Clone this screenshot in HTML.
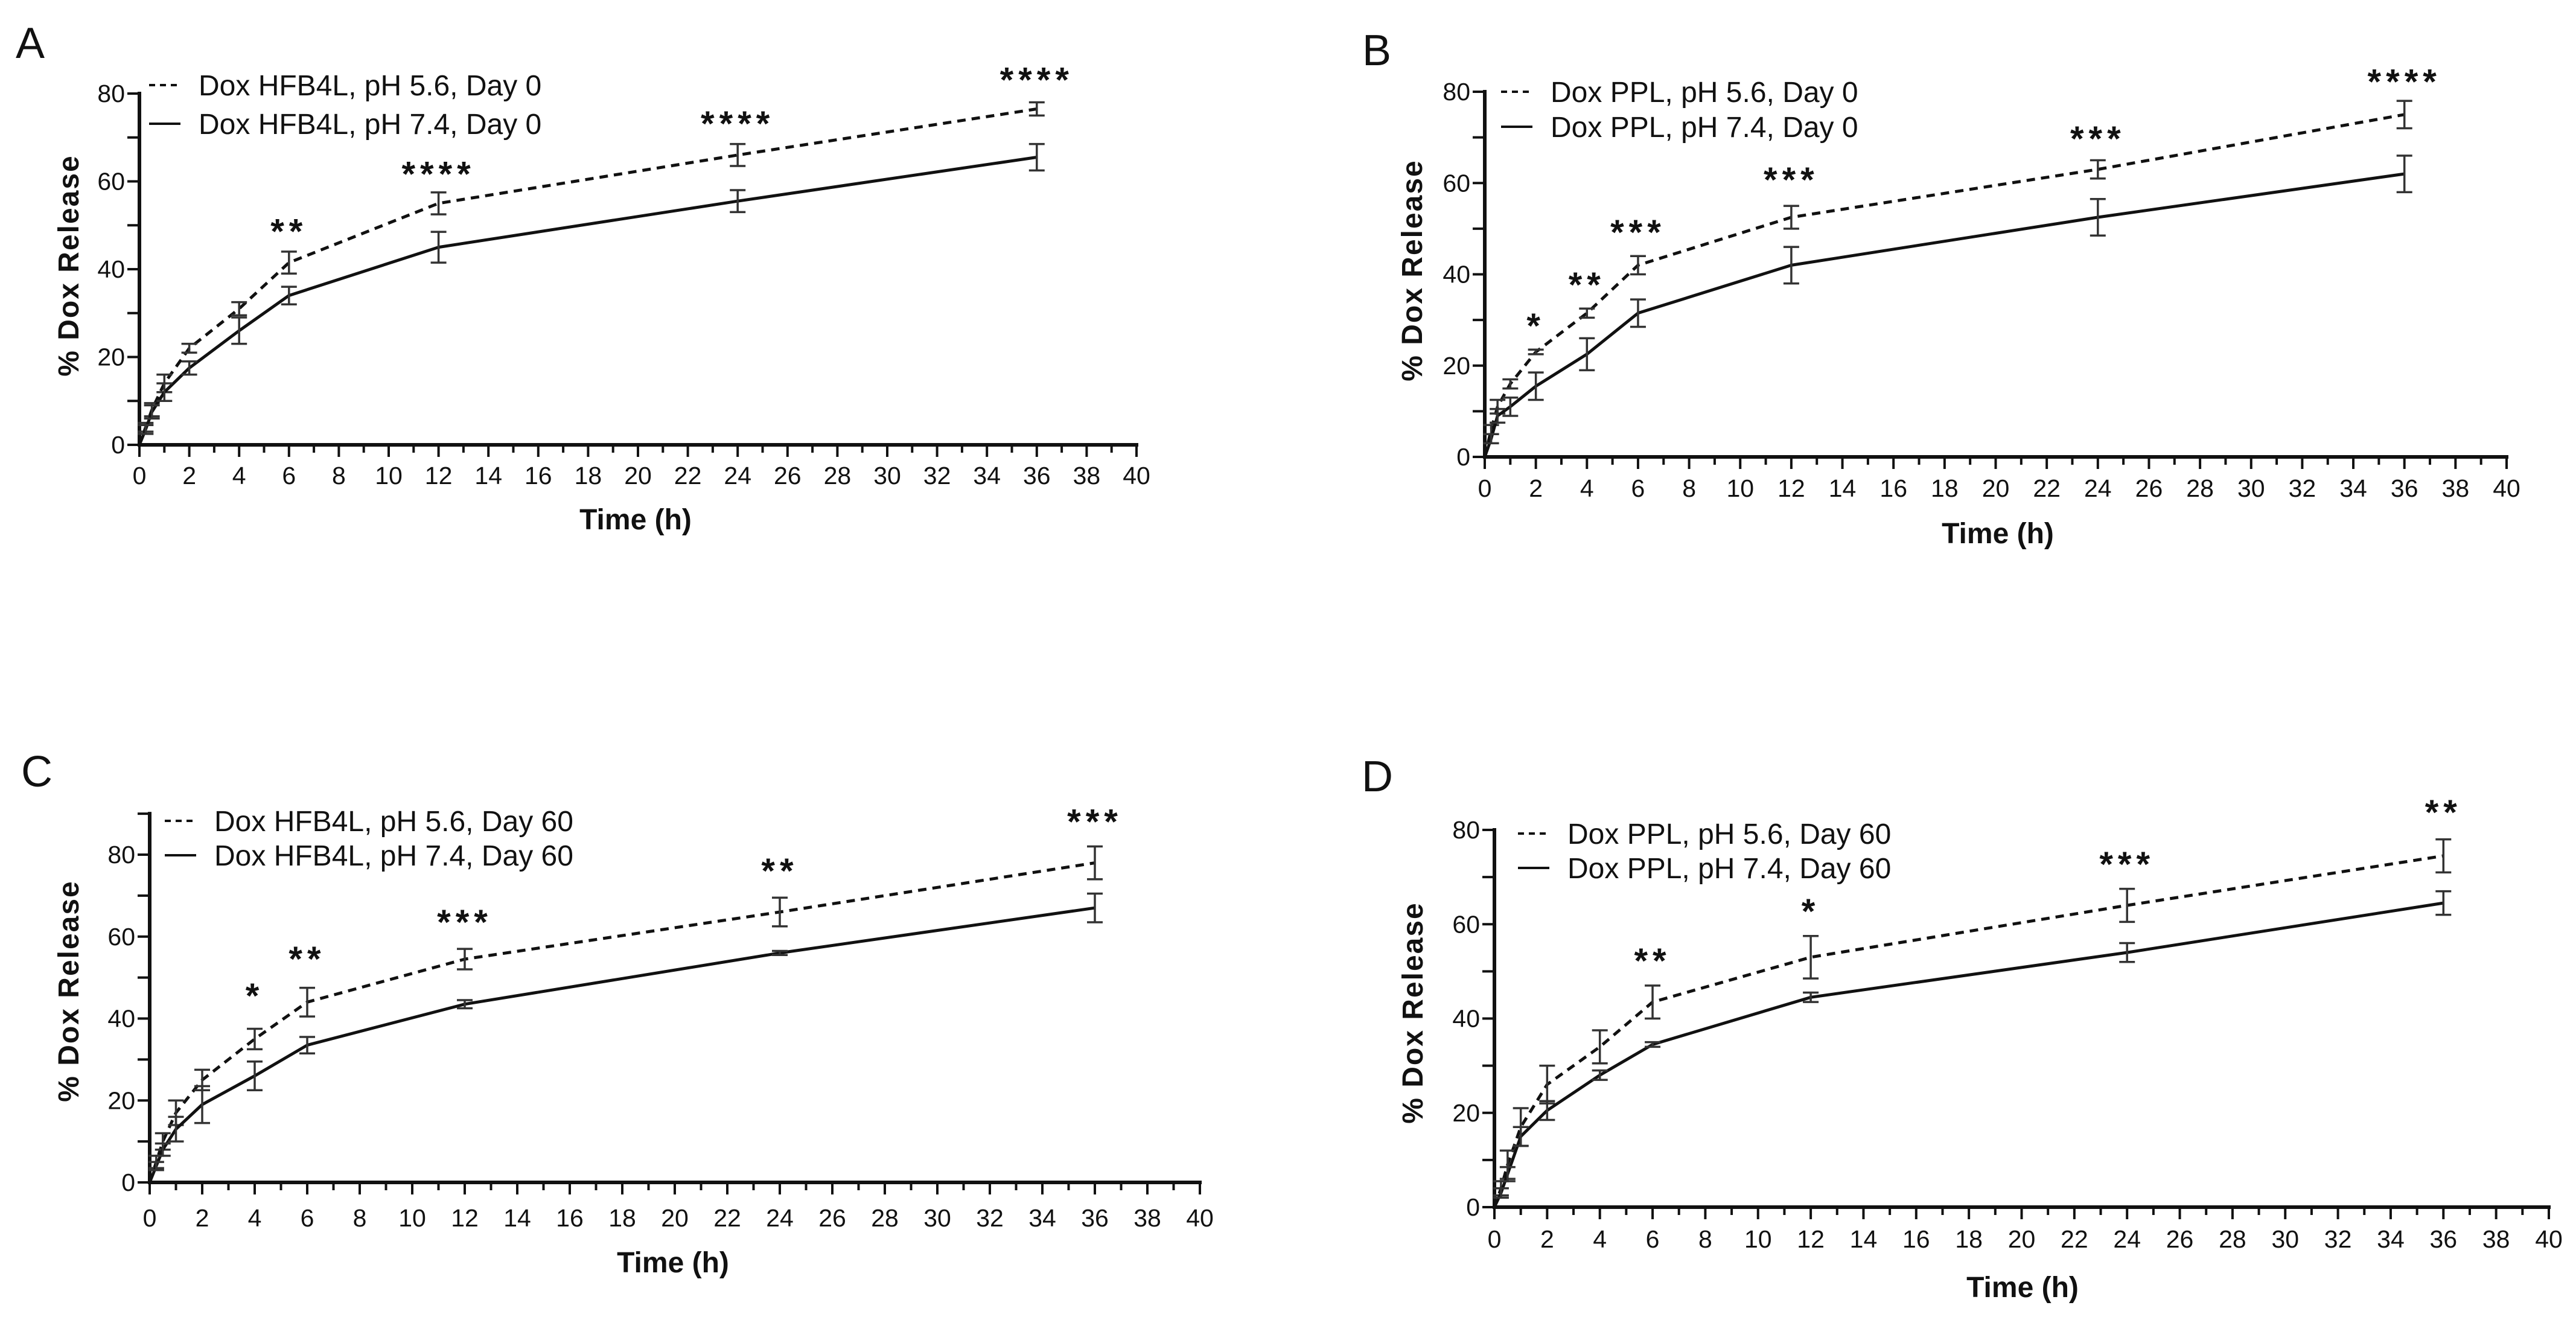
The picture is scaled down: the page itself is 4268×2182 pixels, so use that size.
<!DOCTYPE html>
<html><head><meta charset="utf-8"><style>
html,body{margin:0;padding:0;background:#fff;}
svg{display:block;}
text{font-family:"Liberation Sans",Arial,sans-serif;fill:#111;}
</style></head>
<body>
<svg id="fig" width="4268" height="2182" viewBox="0 0 4268 2182" xmlns="http://www.w3.org/2000/svg"></svg>
<script>
// Shared time points (h)
const times = [0, 0.25, 0.5, 1, 2, 4, 6, 12, 24, 36];
const xTicks = [0,2,4,6,8,10,12,14,16,18,20,22,24,26,28,30,32,34,36,38,40];
const yTickLabels = [0,20,40,60,80];

// Panel A
const aAcid = [0, 4, 8, 14, 22, 31, 41.5, 55, 66, 76.5];
const aAcidErr = [0, 1, 1.5, 2, 1, 1.5, 2.5, 2.5, 2.5, 1.5];
const aNeut = [0, 3.5, 7.5, 12, 17.5, 26, 34, 45, 55.5, 65.5];
const aNeutErr = [0, 1, 1.5, 2, 1.5, 3, 2, 3.5, 2.5, 3];
const aStarTimes = [6, 12, 24, 36];
const aStarVals = [50, 63, 74.5, 84.5];
const aStarLabels = ["**", "****", "****", "****"];

// Panel B
const bAcid = [0, 6, 11, 16, 23, 31.5, 42, 52.5, 63, 75];
const bAcidErr = [0, 1, 1.5, 1, 0.5, 1, 2, 2.5, 2, 3];
const bNeut = [0, 4, 9, 11, 15.5, 22.5, 31.5, 42, 52.5, 62];
const bNeutErr = [0, 1, 1.5, 2, 3, 3.5, 3, 4, 4, 4];
const bStarTimes = [2, 4, 6, 12, 24, 36];
const bStarVals = [30, 39, 50.5, 62, 71, 83.5];
const bStarLabels = ["*", "**", "***", "***", "***", "****"];

// Panel C
const cAcid = [0, 5, 10, 17, 25, 35, 44, 54.5, 66, 78];
const cAcidErr = [0, 1.5, 2, 3, 2.5, 2.5, 3.5, 2.5, 3.5, 4];
const cNeut = [0, 4, 8, 13, 19, 26, 33.5, 43.5, 56, 67];
const cNeutErr = [0, 1, 1.5, 3, 4.5, 3.5, 2, 1, 0.5, 3.5];
const cStarTimes = [4, 6, 12, 24, 36];
const cStarVals = [47, 56, 65, 77.5, 89.5];
const cStarLabels = ["*", "**", "***", "**", "***"];

// Panel D
const dAcid = [0, 4, 9, 17, 26, 34, 43.5, 53, 64, 74.5];
const dAcidErr = [0, 1.5, 3, 4, 4, 3.5, 3.5, 4.5, 3.5, 3.5];
const dNeut = [0, 3, 7, 15, 20.5, 28, 34.5, 44.5, 54, 64.5];
const dNeutErr = [0, 1, 1.5, 2, 2, 1, 0.5, 1, 2, 2.5];
const dStarTimes = [6, 12, 24, 36];
const dStarVals = [53.5, 64, 74, 85];
const dStarLabels = ["**", "*", "***", "**"];

const NS = "http://www.w3.org/2000/svg";
const svg = document.getElementById("fig");
function mk(tag, attrs, parent){
  const e = document.createElementNS(NS, tag);
  for (const k in attrs) e.setAttribute(k, attrs[k]);
  (parent||svg).appendChild(e);
  return e;
}

const panels = [
  {id:"a", letter:"A", lx:26, ly:96, x0:231, x40:1883, y0:737, y80:155, yTop:80,
   legX:329, legY1:141, legY2:205, legLabels:["Dox HFB4L, pH 5.6, Day 0","Dox HFB4L, pH 7.4, Day 0"],
   ylx:113, yly:440, tickY:802, titleX:1053, titleY:877,
   acid:aAcid, acidErr:aAcidErr, neut:aNeut, neutErr:aNeutErr, st:aStarTimes, sv:aStarVals, sl:aStarLabels},
  {id:"b", letter:"B", lx:2257, ly:108, x0:2460, x40:4153, y0:757, y80:152, yTop:80,
   legX:2569, legY1:152, legY2:210, legLabels:["Dox PPL, pH 5.6, Day 0","Dox PPL, pH 7.4, Day 0"],
   ylx:2339, yly:448, tickY:823, titleX:3310, titleY:900,
   acid:bAcid, acidErr:bAcidErr, neut:bNeut, neutErr:bNeutErr, st:bStarTimes, sv:bStarVals, sl:bStarLabels},
  {id:"c", letter:"C", lx:35, ly:1303, x0:248, x40:1988, y0:1959, y80:1416, yTop:90,
   legX:355, legY1:1360, legY2:1417, legLabels:["Dox HFB4L, pH 5.6, Day 60","Dox HFB4L, pH 7.4, Day 60"],
   ylx:113, yly:1642, tickY:2032, titleX:1115, titleY:2108,
   acid:cAcid, acidErr:cAcidErr, neut:cNeut, neutErr:cNeutErr, st:cStarTimes, sv:cStarVals, sl:cStarLabels},
  {id:"d", letter:"D", lx:2256, ly:1311, x0:2476, x40:4223, y0:2000, y80:1375, yTop:80,
   legX:2597, legY1:1381, legY2:1438, legLabels:["Dox PPL, pH 5.6, Day 60","Dox PPL, pH 7.4, Day 60"],
   ylx:2340, yly:1678, tickY:2067, titleX:3351, titleY:2149,
   acid:dAcid, acidErr:dAcidErr, neut:dNeut, neutErr:dNeutErr, st:dStarTimes, sv:dStarVals, sl:dStarLabels}
];

panels.forEach(p => {
  const g = mk("g", {});
  
  
  const X = t => p.x0 + (p.x40 - p.x0) * t / 40;
  const Y = v => p.y0 - (p.y0 - p.y80) * v / 80;

  const L = mk("text", {x:p.lx, y:p.ly, "font-size":72}, g);
  L.textContent = p.letter;
  
  

  // axes
  const ya = mk("line", {x1:X(0), y1:Y(p.yTop)-3, x2:X(0), y2:Y(0)+3, stroke:"#111","stroke-width":6}, g);
  
  
  const xa = mk("line", {x1:X(0)-3, y1:Y(0), x2:X(40)+3, y2:Y(0), stroke:"#111","stroke-width":6}, g);
  
  

  for (let v = 0; v <= p.yTop; v += 10) {
    const tk = mk("line", {x1:X(0)-20, y1:Y(v), x2:X(0), y2:Y(v), stroke:"#111","stroke-width":4}, g);
    
    
  }
  yTickLabels.forEach(v => {
    const t = mk("text", {x:X(0)-24, y:Y(v)+14, "font-size":41, "text-anchor":"end"}, g);
    t.textContent = v;
    
    
  });
  for (let t = 0; t <= 40; t += 1) {
    const tk = mk("line", {x1:X(t), y1:Y(0), x2:X(t), y2:Y(0)+(t%2===0?20:13), stroke:"#111","stroke-width":4}, g);
    
    
  }
  xTicks.forEach(t => {
    const tl = mk("text", {x:X(t), y:p.tickY, "font-size":41, "text-anchor":"middle"}, g);
    tl.textContent = t;
    
    
  });

  const xt = mk("text", {x:p.titleX, y:p.titleY, "font-size":48, "font-weight":"bold", "text-anchor":"middle"}, g);
  xt.textContent = "Time (h)";
  
  
  const yt = mk("text", {x:0, y:0, "font-size":48, "font-weight":"bold", "text-anchor":"middle", "letter-spacing":2,
    transform:`translate(${p.ylx+17},${p.yly}) rotate(-90)`}, g);
  yt.textContent = "% Dox Release";
  
  

  // series
  const series = [
    {vals:p.acid, err:p.acidErr, dash:"14 10", name:"acid"},
    {vals:p.neut, err:p.neutErr, dash:"", name:"neutral"}
  ];
  series.forEach(s => {
    const pts = times.map((t,i) => X(t).toFixed(1)+","+Y(s.vals[i]).toFixed(1)).join(" ");
    const pl = mk("polyline", {points:pts, fill:"none", stroke:"#111", "stroke-width":5, "stroke-dasharray":s.dash||"none", "stroke-linejoin":"round"}, g);
    
    
    times.forEach((t,i) => {
      if (s.err[i] <= 0) return;
      const eg = mk("g", {stroke:"#333", "stroke-width":3.5}, g);
      
      
      const xx = X(t), yh = Y(s.vals[i]+s.err[i]), yl = Y(s.vals[i]-s.err[i]);
      mk("line", {x1:xx, y1:yh, x2:xx, y2:yl}, eg);
      mk("line", {x1:xx-13, y1:yh, x2:xx+13, y2:yh}, eg);
      mk("line", {x1:xx-13, y1:yl, x2:xx+13, y2:yl}, eg);
    });
  });

  // significance stars
  p.st.forEach((t,i) => {
    const s = mk("text", {x:X(t), y:Y(p.sv[i])+30, "font-size":58, "font-weight":"bold", "text-anchor":"middle", "letter-spacing":8}, g);
    s.textContent = p.sl[i];
    
    
  });

  // legend
  const l1 = mk("line", {x1:p.legX-82, y1:p.legY1, x2:p.legX-30, y2:p.legY1, stroke:"#111", "stroke-width":4, "stroke-dasharray":"10 8"}, g);
  
  
  const l2 = mk("line", {x1:p.legX-82, y1:p.legY2, x2:p.legX-30, y2:p.legY2, stroke:"#111", "stroke-width":4}, g);
  
  
  const t1 = mk("text", {x:p.legX, y:p.legY1+17, "font-size":48}, g);
  t1.textContent = p.legLabels[0];
  
  
  const t2 = mk("text", {x:p.legX, y:p.legY2+17, "font-size":48}, g);
  t2.textContent = p.legLabels[1];
  
  
});
</script>
</body></html>
